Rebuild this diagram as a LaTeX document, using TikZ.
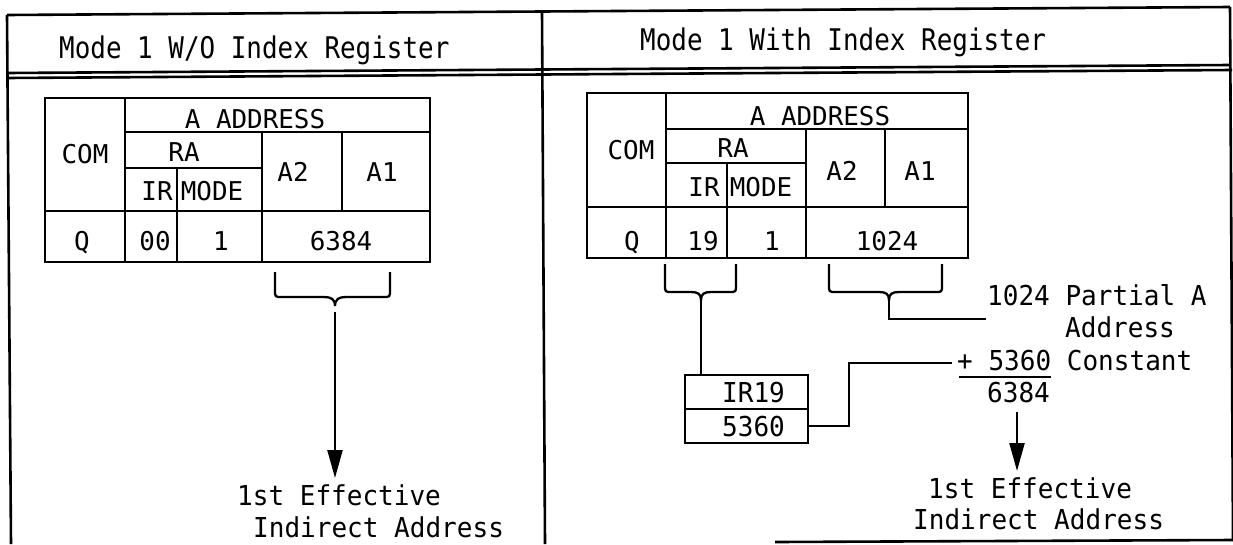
\documentclass[tikz,border=0pt]{standalone}
\usepackage{fontspec}
\newfontfamily\tw{DejaVu Sans Mono}
\newfontfamily\twH[FakeStretch=0.87]{DejaVu Sans Mono}
\newfontfamily\twL[FakeStretch=0.95]{DejaVu Sans Mono}
\usetikzlibrary{arrows.meta}
\begin{document}
\begin{tikzpicture}[x=1pt,y=-1pt,
  frame/.style={line width=2.6pt},
  tab/.style={line width=2.3pt},
  conn/.style={line width=2.3pt},
  txt/.style={inner sep=0pt, text height=18.9pt, text depth=0pt, font=\tw\fontsize{25.9}{31}\selectfont},
  htxt/.style={inner sep=0pt, text height=21.7pt, text depth=0pt, font=\twH\fontsize{29.8}{36}\selectfont},
  ltxt/.style={inner sep=0pt, text height=20pt, text depth=0pt, font=\twL\fontsize{27.4}{33}\selectfont},
  arr/.style={conn,-{Triangle[length=28pt,width=15pt]}},
  lbox/.style={draw, line width=2.3pt, minimum width=123pt, minimum height=34pt, inner sep=0pt,
    text height=20pt, text depth=0pt, font=\twL\fontsize{27.4}{33}\selectfont}
]
\useasboundingbox (0,0) rectangle (1233,544);
\fill[white] (0,0) rectangle (1233,544);

% outer frame (slightly tilted like the scan)
\draw[frame] (7,15) -- (1230,7);
\draw[frame] (7,73) -- (1230,65);
\draw[frame] (7,78) -- (1232,70);
\draw[frame] (7,15) -- (11,544);
\draw[frame] (542,12) -- (545,544);
\draw[frame] (1230,7) -- (1233,541);
\draw[frame] (775,542) -- (1233,540);

% headers
\node[htxt,anchor=west] (h1) at (59,48) {Mode 1 W/O Index Register};
\node[htxt,anchor=west] (h2) at (640,40) {Mode 1 With Index Register};

% ---------- left table ----------
\draw[tab] (45,98) rectangle (430,262);
\draw[tab] (125,98) -- (125,262);
\draw[tab] (125,132) -- (430,132);
\draw[tab] (125,168) -- (262,168);
\draw[tab] (45,211) -- (430,211);
\draw[tab] (177,168) -- (177,262);
\draw[tab] (262,132) -- (262,262);
\draw[tab] (342,132) -- (342,211);

\node[txt] (la) at (255,119) {A ADDRESS};
\node[txt] (lcom) at (85,154) {COM};
\node[txt] (lra) at (184,152) {RA};
\node[txt] (lir) at (157,191) {IR};
\node[txt] (lmode) at (212,191) {MODE};
\node[txt] (la2) at (293,172) {A2};
\node[txt] (la1) at (382,172) {A1};
\node[txt] (lq) at (82,241) {Q};
\node[txt] (l00) at (155,241) {00};
\node[txt] (l1) at (221,241) {1};
\node[txt] (lval) at (341,241) {6384};

% left brace
\coordinate (lbtip) at (335,306);
\draw[conn] (275,272) -- (275,290) .. controls (275,297) .. (282,297) -- (324,297)
  .. controls (331,297) and (335,299) .. (lbtip)
  .. controls (335,299) and (339,297) .. (346,297) -- (383,297)
  .. controls (390,297) .. (390,290) -- (390,272);
\coordinate (lastart) at (335,312);
\coordinate (laend) at (335,478);
\draw[arr] (lastart) -- (laend);
\node[ltxt,anchor=west] (le1) at (237,495) {1st Effective};
\node[ltxt,anchor=west] (le2) at (253,527) {Indirect Address};

% ---------- right table ----------
\draw[tab] (587,93) rectangle (968,258);
\draw[tab] (666,93) -- (666,258);
\draw[tab] (666,129) -- (968,129);
\draw[tab] (666,163) -- (806,163);
\draw[tab] (587,207) -- (968,207);
\draw[tab] (727,163) -- (727,258);
\draw[tab] (806,129) -- (806,258);
\draw[tab] (885,129) -- (885,207);

\node[txt] (ra) at (820,116) {A ADDRESS};
\node[txt] (rcom) at (631,150) {COM};
\node[txt] (rra) at (733,148) {RA};
\node[txt] (rir) at (704,187) {IR};
\node[txt] (rmode) at (761,187) {MODE};
\node[txt] (ra2) at (842,171) {A2};
\node[txt] (ra1) at (920,171) {A1};
\node[txt] (rq) at (632,241) {Q};
\node[txt] (r19) at (703,241) {19};
\node[txt] (r1) at (772,241) {1};
\node[txt] (rval) at (887,241) {1024};

% right braces
\coordinate (b1tip) at (701,300);
\draw[conn] (665,264) -- (665,285) .. controls (665,292) .. (672,292) -- (691,292)
  .. controls (698,292) and (701,294) .. (b1tip)
  .. controls (701,294) and (704,292) .. (711,292) -- (729,292)
  .. controls (736,292) .. (736,285) -- (736,264);
\coordinate (b2tip) at (889,300);
\draw[conn] (829,264) -- (829,285) .. controls (829,292) .. (836,292) -- (879,292)
  .. controls (886,292) and (889,294) .. (b2tip)
  .. controls (889,294) and (892,292) .. (899,292) -- (935,292)
  .. controls (942,292) .. (942,285) -- (942,264);

% IR19 register
\node[lbox] (irA) at (746.5,392) {\hspace*{14pt}IR19};
\node[lbox] (irB) at (746.5,426) {\hspace*{14pt}5360};
\draw[conn] (b1tip) -- (b1tip |- irA.north);

% sum
\node[ltxt,anchor=west] (p1) at (987,295) {1024 Partial A};
\node[ltxt,anchor=west] (p2) at (1065,327) {Address};
\node[ltxt,anchor=west] (p3) at (957,360) {+ 5360 Constant};
\node[ltxt,anchor=west] (p4) at (987,392) {6384};
\draw[line width=2pt] (959,377) -- (1051,377);

\coordinate (c1024) at (986,319);
\draw[conn] (b2tip) |- (c1024);
\coordinate (cplus) at (952,363);
\coordinate (cbend) at (849,426);
\draw[conn] (irB.east) -- (cbend) |- (cplus);

\coordinate (rastart) at (1017,412);
\coordinate (raend) at (1017,471);
\draw[arr] (rastart) -- (raend);
\node[ltxt,anchor=west] (re1) at (928,488) {1st Effective};
\node[ltxt,anchor=west] (re2) at (913,519) {Indirect Address};
\end{tikzpicture}
\end{document}
